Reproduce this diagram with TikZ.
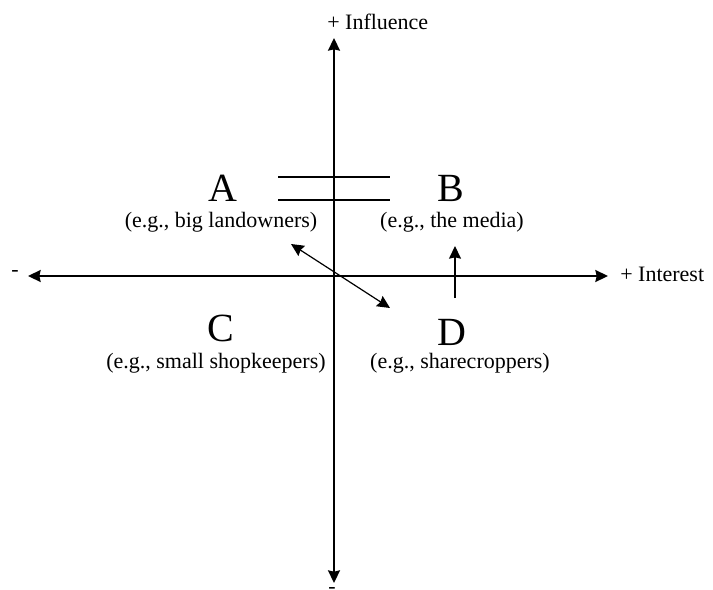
\documentclass[tikz,border=0pt]{standalone}
\usepackage{fontspec}
\setmainfont{Liberation Serif}
\usetikzlibrary{arrows.meta}
\begin{document}
\begin{tikzpicture}[x=0.75pt,y=-0.75pt,
  hd/.tip={Stealth[length=9.5pt,width=9pt,inset=1pt]},
  tip/.style={-hd},
  twotip/.style={hd-hd},
  ax/.style={line width=1.3pt,twotip},
  thin/.style={line width=0.9pt},
  big/.style={font=\fontsize{30}{30}\selectfont, inner sep=0pt},
  lab/.style={font=\fontsize{16.5}{18}\selectfont, inner sep=0pt}]
\useasboundingbox (0,0) rectangle (713,589);
\fill[white] (0,0) rectangle (713,589);
% axes
\coordinate (top) at (334,38);
\coordinate (bot) at (334,583);
\coordinate (lft) at (28,276);
\coordinate (rgt) at (608,276);
\draw[ax] (bot) -- (top);
\draw[ax] (lft) -- (rgt);
% axis labels
\node[lab, anchor=west] (infl) at (327,22) {+ Influence};
\node[lab, anchor=west] (intr) at (620,274) {+ Interest};
\node[lab, anchor=base] (minusl) at (15,276.5) {-};
\node[lab, anchor=base] (minusb) at (332,593.5) {-};
% quadrants
\node[big] (A) at (223,188) {A};
\node[lab] (a) at (221,222) {(e.g., big landowners)};
\node[big] (B) at (451,188) {B};
\node[lab] (b) at (452,222) {(e.g., the media)};
\node[big] (C) at (221,328) {C};
\node[lab] (c) at (216,363) {(e.g., small shopkeepers)};
\node[big] (D) at (452,332) {D};
\node[lab] (d) at (460,363) {(e.g., sharecroppers)};
% double line
\coordinate (l1) at (278,177);
\coordinate (r1) at (390,177);
\coordinate (l2) at (278,200);
\coordinate (r2) at (390,200);
\draw[thin] (l1) -- (r1);
\draw[thin] (l2) -- (r2);
% diagonal two-headed arrow
\coordinate (p1) at (291,244);
\coordinate (p2) at (390,308);
\draw[thin,twotip] (p1) -- (p2);
% up arrow
\coordinate (u1) at (455,298);
\coordinate (u2) at (455,246);
\draw[thin,tip] (u1) -- (u2);
\end{tikzpicture}
\end{document}
